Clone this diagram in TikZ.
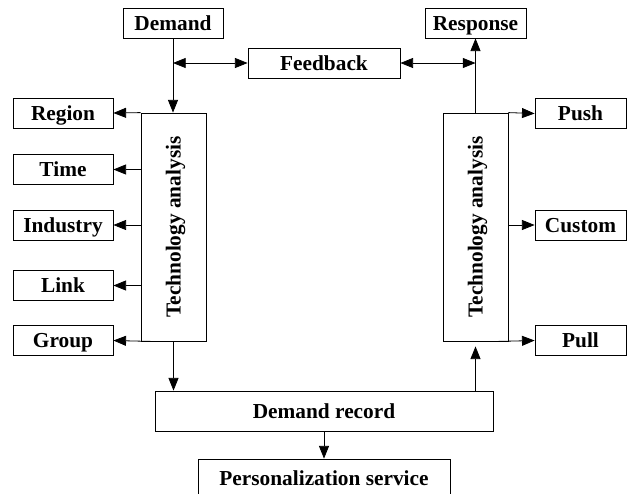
\documentclass[tikz,border=0pt]{standalone}
\usepackage{fontspec}
\setmainfont{Liberation Serif}
\usetikzlibrary{arrows.meta}
\tikzset{
  box/.style={draw=black, line width=0.6pt, inner sep=0pt, minimum height=22.5pt,
    text height=12pt, text depth=1.5pt,
    font=\fontsize{16}{19}\selectfont\bfseries},
  techbox/.style={draw=black, line width=0.6pt, inner sep=0pt,
    minimum width=48.75pt, minimum height=171pt},
  techtext/.style={rotate=90, inner sep=0pt, text height=12pt, text depth=1.5pt,
    font=\fontsize{16}{19}\selectfont\bfseries},
  link/.style={line width=0.6pt, -{Triangle[length=9.5pt,width=7.5pt]}},
  twoway/.style={line width=0.6pt, {Triangle[length=9.5pt,width=7.5pt]}-{Triangle[length=9.5pt,width=7.5pt]}}
}
\begin{document}
\begin{tikzpicture}[x=0.75pt,y=-0.75pt]
\useasboundingbox (0,0) rectangle (627,493);
% top row
\node[box, minimum width=75pt] (demand) at (173,23) {Demand};
\node[box, minimum width=75.75pt] (response) at (475.5,23) {Response};
\node[box, minimum width=114pt] (feedback) at (324,63) {Feedback};
% left column
\node[box, minimum width=75pt] (region) at (63,113) {Region};
\node[box, minimum width=75pt] (time) at (63,169.5) {Time};
\node[box, minimum width=75pt] (industry) at (63,225) {Industry};
\node[box, minimum width=75pt] (linkbox) at (63,285.5) {Link};
\node[box, minimum width=75pt] (group) at (63,340.5) {Group};
% analysis boxes
\node[techbox] (techL) at (173.5,227) {};
\node[techtext] (techLtext) at (techL) {Technology analysis};
\node[techbox] (techR) at (475.5,227) {};
\node[techtext] (techRtext) at (techR) {Technology analysis};
% right column
\node[box, minimum width=68.25pt] (push) at (580.5,113.5) {Push};
\node[box, minimum width=68.25pt] (custom) at (580.5,225) {Custom};
\node[box, minimum width=68.25pt] (pull) at (580.5,340.5) {Pull};
% bottom
\node[box, minimum width=253.5pt, minimum height=30pt] (record) at (324,411) {Demand record};
\node[box, minimum width=189pt, minimum height=28.5pt] (service) at (324,478) {Personalization service};
% connectors
\draw[link] (demand.south) -- (demand.south |- techL.north);
\draw[twoway] (demand.south |- feedback.west) -- (feedback.west);
\draw[twoway] (feedback.east) -- (response.south |- feedback.east);
\draw[link] (response.south |- techR.north) -- (response.south);
\draw[link] (techL.north west) -- (region.east);
\draw[link] (techL.west |- time.east) -- (time.east);
\draw[link] (techL.west |- industry.east) -- (industry.east);
\draw[link] (techL.west |- linkbox.east) -- (linkbox.east);
\draw[link] ([xshift=7.5pt]techL.south west) -- (group.east);
\draw[link] (techR.north east) -- (push.west);
\draw[link] (techR.east |- custom.west) -- (custom.west);
\draw[link] ([xshift=-7.5pt]techR.south east) -- (pull.west);
\draw[link] (techL.south) -- (techL.south |- record.north);
\draw[link, shorten >=3.75pt] (techR.south |- record.north) -- (techR.south);
\draw[link] (record.south) -- (service.north);
\end{tikzpicture}
\end{document}
